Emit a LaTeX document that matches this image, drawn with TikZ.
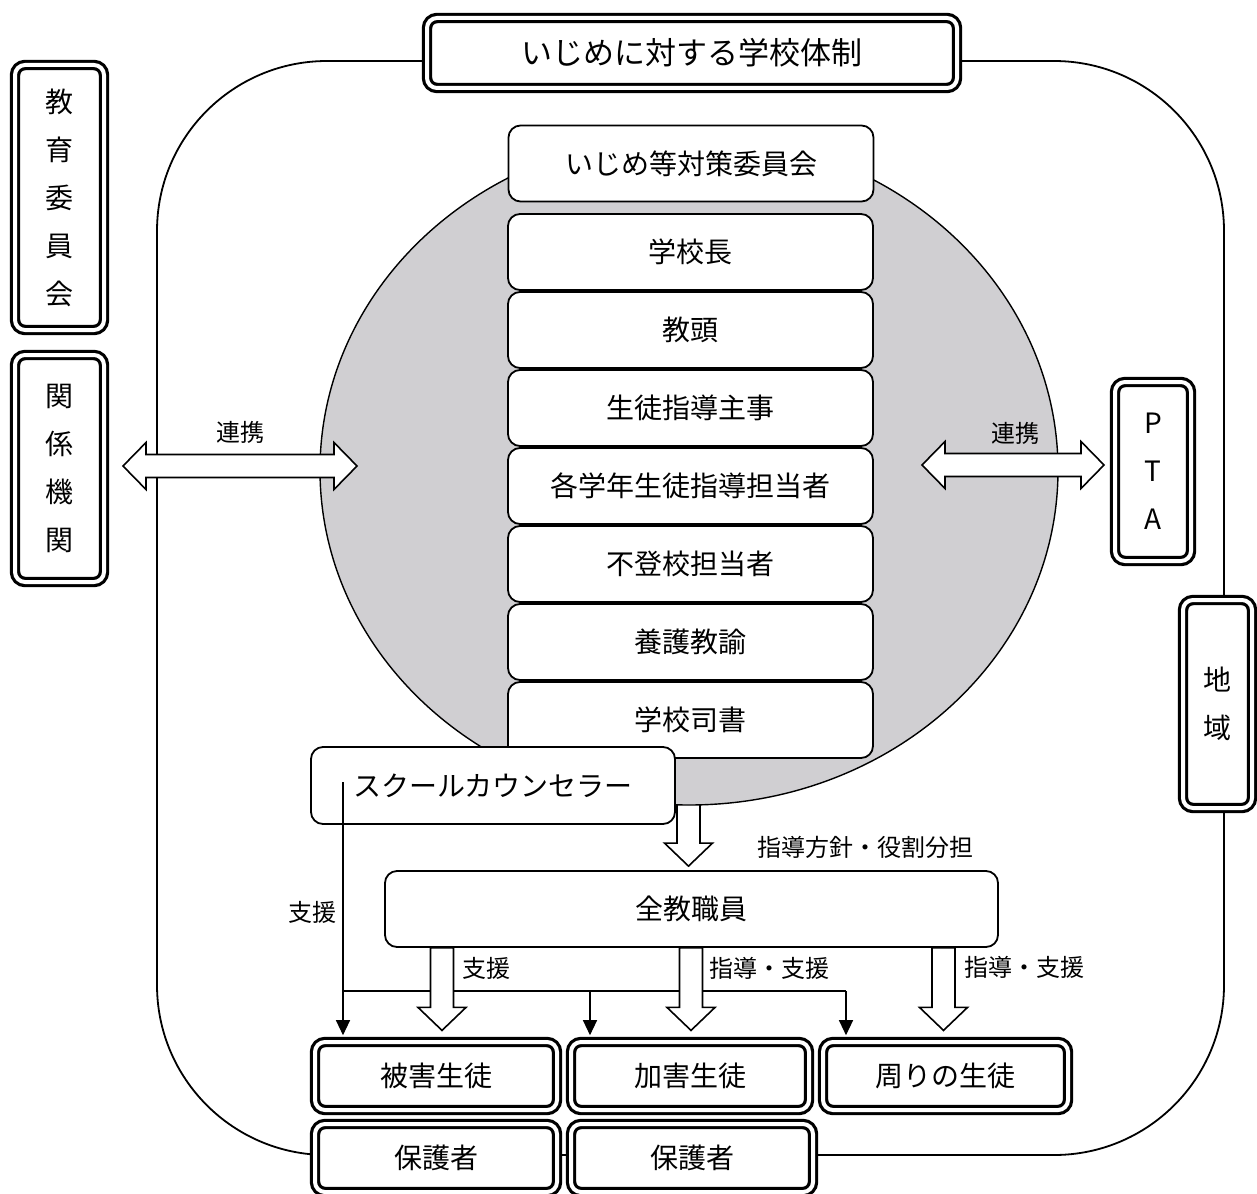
\documentclass[tikz,border=0pt]{standalone}
\usepackage{fontspec}
\setmainfont{Noto Sans CJK JP}
\usetikzlibrary{calc,positioning,arrows.meta}
\definecolor{ovalgray}{RGB}{208,207,210}

\tikzset{
  dblbox/.style={draw, fill=white, line width=3.2pt, double=white, double distance=4pt,
    rounded corners=10pt, inner sep=0pt, align=center},
  stackbox/.style={draw, fill=white, line width=1.8pt, rounded corners=12pt, inner sep=0pt,
    minimum width=365pt, minimum height=76pt},
  blockarrow/.style={draw, fill=white, line width=1.6pt, line join=miter},
  support/.style={line width=1.2pt, -{Triangle[length=15pt,width=14pt]}, shorten >=5.2pt},
  boxfont/.style={font=\fontsize{28}{34}\selectfont},
  vertfont/.style={font=\fontsize{28}{48}\selectfont},
  labelfont/.style={font=\fontsize{24}{28}\selectfont},
}

% hollow arrow pointing down, #1 start, #2 tip
\newcommand{\downblock}[2]{%
  \draw[blockarrow] ($(#1)+(-11.5,0)$) -- ($(#2)+(-11.5,-23)$) -- ($(#2)+(-24,-23)$) -- (#2)
    -- ($(#2)+(24,-23)$) -- ($(#2)+(11.5,-23)$) -- ($(#1)+(11.5,0)$) -- cycle;}
% hollow double arrow, #1 left tip, #2 right tip
\newcommand{\dblblock}[2]{%
  \draw[blockarrow] (#1) -- ($(#1)+(23,-23.5)$) -- ($(#1)+(23,-11.5)$) -- ($(#2)+(-23,-11.5)$)
    -- ($(#2)+(-23,-23.5)$) -- (#2) -- ($(#2)+(-23,23.5)$) -- ($(#2)+(-23,11.5)$)
    -- ($(#1)+(23,11.5)$) -- ($(#1)+(23,23.5)$) -- cycle;}

\begin{document}
\begin{tikzpicture}[x=1pt,y=-1pt]
	\useasboundingbox (0,0) rectangle (1257,1193);
	% outer frame
	\draw[line width=1.8pt, rounded corners=170pt] (157,61) rectangle (1224,1155);
	% all staff
	\node[stackbox, boxfont, minimum width=613pt] (staff) at (691.5,909) {全教職員};
	% policy arrow, behind the oval
	\coordinate (polstart) at (688.5,760);
	\coordinate (poltip) at ($(staff.north)+(-3,-4)$);
	\downblock{polstart}{poltip}
	% oval
	\draw[fill=ovalgray, line width=1.4pt] (689,470) ellipse [x radius=369pt, y radius=335pt];
	% committee
	\node[stackbox, boxfont] (iinkai) at (691,163.5) {いじめ等対策委員会};
	\foreach \txt [count=\i] in {学校長,教頭,生徒指導主事,各学年生徒指導担当者,不登校担当者,養護教諭,学校司書}
		\node[stackbox, boxfont] (s\i) at (690.5,174+78*\i) {\txt};
	\node[stackbox, boxfont, minimum width=364pt, minimum height=77pt] (sc) at (493,785.5) {スクールカウンセラー};
	% double boxes
	\node[dblbox, font=\fontsize{31}{36}\selectfont, minimum width=530pt, minimum height=70pt] (title) at (692,53) {いじめに対する学校体制};
	\node[dblbox, vertfont, minimum width=89pt, minimum height=265pt] (kyoiku) at (59.5,197.5) {教\\育\\委\\員\\会};
	\node[dblbox, vertfont, minimum width=89pt, minimum height=227pt] (kankei) at (59.5,468.5) {関\\係\\機\\関};
	\node[dblbox, vertfont, minimum width=76pt, minimum height=179pt] (pta) at (1153,471.5) {P\\T\\A};
	\node[dblbox, vertfont, minimum width=69pt, minimum height=208pt] (chiiki) at (1217.5,704) {地\\域};
	\node[dblbox, boxfont, minimum width=242pt, minimum height=68pt] (higai) at (436,1076) {被害生徒};
	\node[dblbox, boxfont, minimum width=238pt, minimum height=68pt] (kagai) at (690,1076) {加害生徒};
	\node[dblbox, boxfont, minimum width=245pt, minimum height=68pt] (mawari) at (945.5,1076) {周りの生徒};
	\node[dblbox, boxfont, minimum width=242pt, minimum height=68pt] (hogo1) at (436,1158) {保護者};
	\node[dblbox, boxfont, minimum width=242pt, minimum height=68pt] (hogo2) at (692,1158) {保護者};
	% support from the counselor
	\coordinate (sctap) at (343,782);
	\coordinate (split) at (343,991);
	\coordinate (drop2) at (590,991);
	\coordinate (drop3) at (846,991);
	\draw[support] (sctap) -- (sctap |- higai.north);
	\draw[line width=1.2pt] (split) -- (drop3);
	\draw[support] (drop2) -- (drop2 |- kagai.north);
	\draw[support] (drop3) -- (drop3 |- mawari.north);
	% arrows from all staff
	\coordinate (t1) at ($(higai.north)+(6,-10)$);
	\coordinate (t2) at ($(kagai.north)+(1,-10)$);
	\coordinate (t3) at ($(mawari.north)+(-2,-10)$);
	\coordinate (a1) at (t1 |- staff.south);
	\coordinate (a2) at (t2 |- staff.south);
	\coordinate (a3) at (t3 |- staff.south);
	\downblock{a1}{t1}
	\downblock{a2}{t2}
	\downblock{a3}{t3}
	% cooperation arrows
	\coordinate (kl) at (123,466);
	\coordinate (kr) at (357,466);
	\dblblock{kl}{kr}
	\coordinate (pl) at (922,465);
	\coordinate (pr) at (1104,465);
	\dblblock{pl}{pr}
	% labels
	\node[labelfont] (lk1) at (240,432) {連携};
	\node[labelfont] (lk2) at (1015,433) {連携};
	\node[labelfont] (lsc) at (312,912) {支援};
	\node[labelfont] (lpol) at (865,847) {指導方針・役割分担};
	\node[labelfont] (l1) at (486,968) {支援};
	\node[labelfont] (l2) at (769,968) {指導・支援};
	\node[labelfont] (l3) at (1024,967) {指導・支援};
\end{tikzpicture}
\end{document}
